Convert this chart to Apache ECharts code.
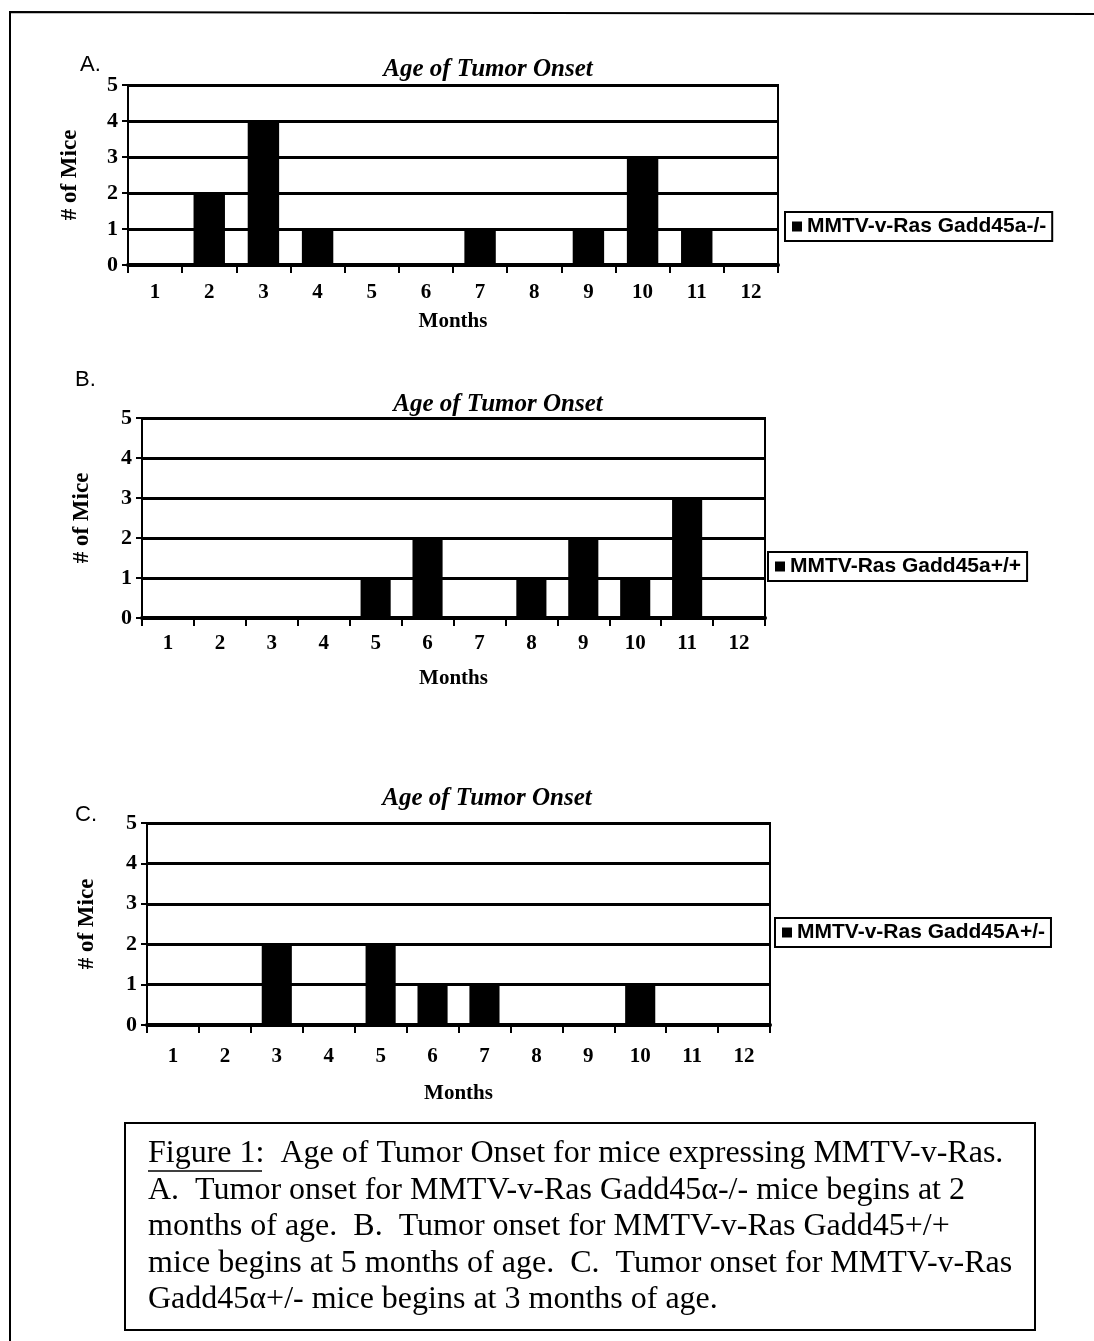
<!DOCTYPE html>
<html>
<head>
<meta charset="utf-8">
<script src="https://cdn.jsdelivr.net/npm/echarts@6/dist/echarts.min.js"></script>
<style>
  html, body { margin: 0; padding: 0; background: #fff; }
  #main { width: 1094px; height: 1341px; }
</style>
</head>
<body>
<div id="main"></div>
<script>
// months on the x axis
var months = ['1', '2', '3', '4', '5', '6', '7', '8', '9', '10', '11', '12'];
// # of mice per month
var miceA = [0, 2, 4, 1, 0, 0, 1, 0, 1, 3, 1, 0];
var miceB = [0, 0, 0, 0, 1, 2, 0, 1, 2, 1, 3, 0];
var miceC = [0, 0, 2, 0, 2, 1, 1, 0, 0, 1, 0, 0];
var yTicks = [0, 1, 2, 3, 4, 5];
var names = ['MMTV-v-Ras Gadd45a-/-', 'MMTV-Ras Gadd45a+/+', 'MMTV-v-Ras Gadd45A+/-'];

var serif = '"Liberation Serif", "Times New Roman", serif';
var sans = '"Liberation Sans", Arial, sans-serif';

// panel layout: plot box in pixels
var panels = [
    {left: 128, right: 316, top: 85, height: 180, nameGap: 46, labelMargin: 17, yGap: 46, letter: 'A.', lx: 80, ly: 54, tx: 488, ty: 57, legend: {left: 785, top: 212}},
    {left: 142, right: 329, top: 418, height: 200, nameGap: 50, labelMargin: 15, yGap: 48, letter: 'B.', lx: 75, ly: 369, tx: 498, ty: 392, legend: {left: 768, top: 552}},
    {left: 147, right: 324, top: 823, height: 202, nameGap: 58, labelMargin: 21, yGap: 48, letter: 'C.', lx: 75, ly: 804, tx: 487, ty: 786, legend: {left: 775, top: 918}}
];
var data = [miceA, miceB, miceC];

var myChart = echarts.init(document.getElementById('main'));

var grids = [], xAxes = [], yAxes = [], series = [], legends = [], graphics = [];

panels.forEach(function (p, i) {
    grids.push({
        left: p.left, right: p.right, top: p.top, height: p.height,
        show: true, borderColor: '#000', borderWidth: 2, backgroundColor: '#fff'
    });
    xAxes.push({
        type: 'category', gridIndex: i, data: months,
        name: 'Months', nameLocation: 'middle', nameGap: p.nameGap,
        nameTextStyle: {fontFamily: serif, fontWeight: 'bold', fontSize: 21, color: '#000'},
        axisLine: {lineStyle: {color: '#000', width: 4}},
        axisTick: {show: true, length: 8, lineStyle: {color: '#000', width: 2}},
        axisLabel: {fontFamily: serif, fontWeight: 'bold', fontSize: 21, color: '#000', margin: p.labelMargin}
    });
    yAxes.push({
        type: 'value', gridIndex: i, min: yTicks[0], max: yTicks[yTicks.length - 1], interval: 1,
        name: '# of Mice', nameLocation: 'middle', nameGap: p.yGap, nameRotate: 90,
        nameTextStyle: {fontFamily: serif, fontWeight: 'bold', fontSize: 23, color: '#000'},
        axisLine: {show: true, lineStyle: {color: '#000', width: 2}},
        axisTick: {show: true, length: 6, lineStyle: {color: '#000', width: 2}},
        axisLabel: {fontFamily: serif, fontWeight: 'bold', fontSize: 22, color: '#000', margin: 10},
        splitLine: {lineStyle: {color: '#000', width: 3}}
    });
    series.push({
        name: names[i], type: 'bar', xAxisIndex: i, yAxisIndex: i,
        data: data[i], barWidth: '58%',
        itemStyle: {color: '#000'}
    });
    legends.push({
        data: [names[i]], left: p.legend.left, top: p.legend.top,
        orient: 'vertical', icon: 'rect', itemWidth: 10, itemHeight: 10, itemGap: 4,
        padding: [4, 6, 4, 7],
        borderColor: '#000', borderWidth: 2,
        textStyle: {fontFamily: sans, fontWeight: 'bold', fontSize: 21, color: '#000'}
    });
    graphics.push({
        type: 'text', left: p.lx, top: p.ly,
        style: {text: p.letter, font: '22px ' + sans, fill: '#000'}
    });
    graphics.push({
        type: 'text', x: p.tx, y: p.ty,
        style: {text: 'Age of Tumor Onset', font: 'italic bold 25px ' + serif, fill: '#000', align: 'center'}
    });
});

// outer frame (left and top edges)
graphics.push({
    type: 'polyline',
    shape: {points: [[10, 1341], [10, 12], [1094, 14]]},
    style: {stroke: '#000', lineWidth: 2, fill: null}
});

// caption box
var caption = [
    'Figure 1:  Age of Tumor Onset for mice expressing MMTV-v-Ras.',
    'A.  Tumor onset for MMTV-v-Ras Gadd45\u03b1-/- mice begins at 2',
    'months of age.  B.  Tumor onset for MMTV-v-Ras Gadd45+/+',
    'mice begins at 5 months of age.  C.  Tumor onset for MMTV-v-Ras',
    'Gadd45\u03b1+/- mice begins at 3 months of age.'
];
graphics.push({
    type: 'rect',
    shape: {x: 125, y: 1123, width: 910, height: 207},
    style: {stroke: '#000', lineWidth: 2, fill: '#fff'}
});
caption.forEach(function (line, k) {
    graphics.push({
        type: 'text', x: 148, y: 1138 + k * 36.5,
        style: {text: line, font: '32px ' + serif, fill: '#000'}
    });
});
// underline under "Figure 1"
graphics.push({
    type: 'line',
    shape: {x1: 148, y1: 1171, x2: 262, y2: 1171},
    style: {stroke: '#000', lineWidth: 1.5}
});

var option = {
    backgroundColor: '#fff',
    animation: false,
    grid: grids,
    xAxis: xAxes,
    yAxis: yAxes,
    legend: legends,
    series: series,
    graphic: graphics
};
myChart.setOption(option);
</script>
</body>
</html>
